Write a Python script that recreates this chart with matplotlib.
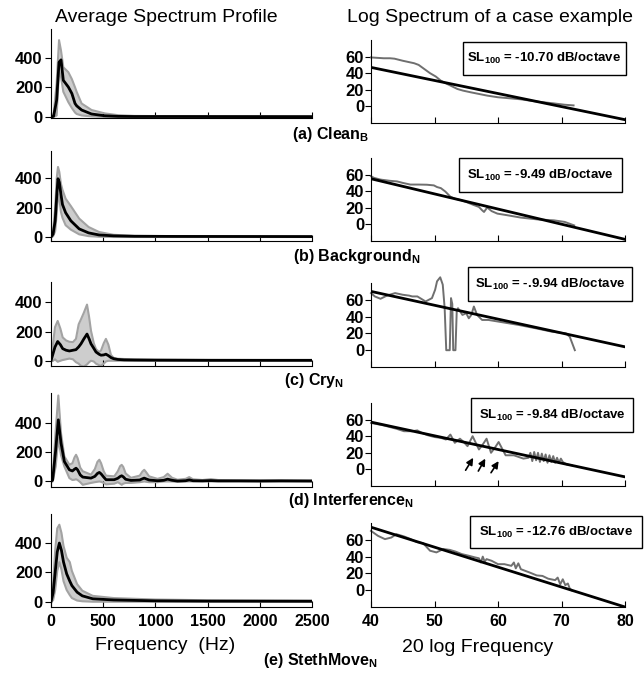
import numpy as np
import matplotlib.pyplot as plt
from matplotlib.patches import Rectangle

plt.rcParams['font.family'] = ['Liberation Sans', 'DejaVu Sans']
plt.rcParams['mathtext.fontset'] = 'custom'
plt.rcParams['mathtext.rm'] = 'Liberation Sans'
plt.rcParams['mathtext.bf'] = 'Liberation Sans:bold'
plt.rcParams['mathtext.it'] = 'Liberation Sans:italic'

# average spectrum profiles (Hz, magnitude)
freq_a = [0, 25, 54, 77, 96, 118, 166, 200, 230, 246, 293, 388, 515, 643, 800, 1200, 2500]
mean_a = [0, 5, 113, 369, 385, 247, 202, 158, 91, 75, 47, 20, 8, 4, 3, 3, 2]
upper_a = [0, 20, 227, 518, 447, 335, 302, 255, 200, 169, 91, 47, 24, 12, 7, 5, 5]
lower_a = [0, 0, 10, 313, 269, 170, 100, 60, 30, 20, 10, 4, 0, 0, 0, 0, 0]

freq_b = [0, 20, 40, 55, 67, 80, 95, 110, 140, 190, 270, 360, 460, 600, 800, 1200, 2500]
mean_b = [0, 20, 110, 280, 395, 370, 290, 220, 165, 110, 55, 28, 14, 8, 5, 4, 3]
upper_b = [0, 40, 200, 400, 475, 440, 360, 320, 260, 210, 125, 68, 34, 15, 8, 6, 5]
lower_b = [0, 5, 40, 160, 290, 260, 170, 130, 80, 50, 18, 6, 2, 0, 0, 0, 0]

freq_c = [0, 20, 38, 64, 90, 112, 145, 176, 210, 239, 265, 287, 315, 345, 365, 383,
          410, 431, 460, 479, 505, 526, 550, 574, 600, 638, 700, 800, 1000, 1500, 2000, 2500]
mean_c = [0, 50, 94, 132, 110, 83, 72, 67, 72, 76, 95, 116, 150, 183, 150, 116,
          85, 60, 45, 38, 40, 45, 35, 22, 14, 9, 6, 5, 4, 3, 3, 3]
upper_c = [0, 120, 230, 273, 220, 160, 139, 130, 128, 150, 250, 284, 330, 385, 300, 206,
           120, 80, 60, 70, 120, 150, 110, 40, 20, 14, 12, 10, 8, 6, 5, 5]
lower_c = [0, 0, 10, -7, 0, 5, 10, 15, 10, -10, -20, -35, -40, -25, -10, 0,
           -5, -20, -30, -35, -20, -5, 0, 0, 0, 0, 0, 0, 0, 0, 0, 0]

freq_d = [0, 16, 45, 70, 96, 128, 176, 205, 225, 240, 255, 280, 304, 383, 420, 445, 463, 480,
          505, 527, 606, 640, 662, 677, 692, 715, 766, 850, 875, 893, 910, 940, 1020, 1080,
          1117, 1160, 1212, 1290, 1324, 1360, 1450, 1531, 1600, 1800, 2000, 2200, 2500]
mean_d = [0, 10, 217, 423, 263, 137, 80, 72, 84, 91, 80, 45, 30, 23, 35, 55, 62, 52,
          30, 12, 12, 22, 34, 39, 32, 15, 7, 10, 18, 23, 18, 10, 5, 8,
          16, 8, 3, 5, 11, 5, 4, 6, 4, 4, 3, 4, 3]
upper_d = [0, 30, 350, 590, 331, 172, 115, 125, 165, 183, 160, 95, 70, 47, 85, 135, 149, 125,
           70, 40, 35, 70, 105, 114, 100, 55, 25, 40, 68, 80, 65, 35, 18, 30,
           53, 25, 12, 18, 30, 15, 10, 16, 10, 8, 8, 8, 7]
lower_d = [0, 0, 103, 297, 180, 103, 23, 10, 12, 15, 10, -5, -23, -10, -5, -2, 0, -3,
           -10, -20, -15, -5, -15, -23, -15, -10, -10, -5, -2, 0, -2, -5, -5, 0,
           0, 0, -3, 0, 0, 0, 0, 0, 0, 0, 0, 0, 0]

freq_e = [0, 20, 40, 60, 80, 100, 120, 150, 180, 200, 250, 300, 400, 600, 1000, 1500, 2500]
mean_e = [0, 60, 200, 340, 400, 350, 270, 190, 140, 110, 65, 40, 20, 12, 6, 4, 3]
upper_e = [0, 120, 350, 500, 525, 470, 380, 300, 270, 210, 120, 75, 40, 25, 15, 10, 8]
lower_e = [0, 10, 80, 210, 270, 220, 140, 80, 45, 25, 8, 3, 0, 0, 0, 0, 0]

# log spectrum of a case example (20 log f, dB)
logf_a = [40, 41, 42, 43, 43.7, 45, 46.8, 47.5, 48.4, 49.3, 50.2, 51, 52, 52.8, 53.6, 54.5,
          55.7, 57, 58.3, 60, 61.5, 63.5, 65, 66.5, 68.7, 70.5, 71.9]
spec_a = [59, 58.5, 58, 58, 57.5, 55, 52, 50, 45, 40, 36, 31, 27, 24, 21, 19,
          17, 15, 13, 11, 10, 8.6, 7, 5.5, 3.7, 2, 1.2]

logf_b = [40, 40.5, 41.5, 43, 44.1, 45, 46.2, 47.5, 48.8, 49.9, 50.4, 51, 51.7, 52.5, 53.2,
          54.1, 55, 56.2, 57, 57.5, 57.8, 58.3, 59, 59.9, 61.5, 63.6, 66.2, 68.8, 70.5, 72]
spec_b = [58, 56, 54, 52.5, 51.8, 50, 48, 48, 47.8, 47, 45, 43.7, 39.6, 33.4, 31,
          29.4, 27, 23.3, 21, 17, 15, 20.4, 16, 13, 11, 8.2, 6, 4.9, 3, -1.2]

logf_c = [40, 40.6, 41.5, 42.5, 43.8, 45, 46, 46.5, 47.3, 48.6, 49.6, 50.1, 50.4, 50.9, 51.3,
          51.6, 51.75, 51.85, 52.4, 52.6, 52.8, 52.95, 53.3, 53.5, 53.7, 54.4, 55.0, 55.4,
          55.8, 56.2, 56.7, 57.5, 58.5, 60.1, 63.3, 66, 68.5, 70.7, 71.3, 71.7, 72.1]
spec_c = [68, 64, 61.2, 65, 68, 66, 65, 64, 64, 58, 62, 72, 82, 86.8, 78,
          50, 20, 0, 0, 62, 55, 0, 0, 46, 50, 42, 44, 38,
          42, 52, 42, 36, 36, 34, 30, 26, 22, 20, 16, 8, 0]

logf_d = [40, 42, 44, 45.2, 46.5, 47.3, 48, 49, 50, 51, 51.8, 52.5, 53.2, 54.0, 54.6, 55.2,
          56.0, 57.0, 57.6, 58.2, 58.9, 59.5, 60.1, 61.2, 62.5, 64.0, 64.8, 65.1, 65.4, 65.7,
          66.0, 66.3, 66.6, 66.9, 67.2, 67.5, 67.8, 68.1, 68.4, 68.7, 69.0, 69.3, 69.6, 69.9,
          70.2, 70.8, 71.6]
spec_d = [56, 53, 49, 46, 46, 47, 44, 41, 39, 38, 36, 42, 32, 37, 33, 28,
          40, 24, 30, 37, 20, 26, 33, 17, 17, 13, 14, 20, 10, 21,
          11, 20, 9, 19, 10, 18, 8, 17, 9, 16, 8, 14, 8, 13,
          9, 6, 5]

logf_e = [40, 41.1, 42.2, 43.2, 44.0, 45.2, 46.2, 47.2, 48.2, 49.3, 50.3, 51.4, 52.4, 53.3,
          54.3, 55.4, 56.4, 57.0, 57.3, 57.6, 57.9, 58.2, 59, 60, 61, 62.1, 62.5, 62.8, 63.2,
          63.6, 64.3, 65, 66.1, 67, 67.9, 69, 69.4, 69.8, 70.2, 70.6, 71, 71.3, 71.6]
spec_e = [70.6, 64.7, 60.8, 62.7, 66.7, 64, 61, 57.3, 56, 47, 45, 49, 48, 46,
          43, 41, 39, 38, 33, 40, 34, 37, 35, 31, 31, 29, 33, 26, 32,
          25, 23, 21, 17.6, 17, 13.7, 12, 15, 7, 13, 6, 8, 2, 0]

fit_x = [40, 80]
fit_a = [47, -16]
fit_b = [55, -18]
fit_c = [70, 4]
fit_d = [57, -9]
fit_e = [75, -20]

slopes = ['-10.70', '-9.49', '-.9.94', '-9.84', '-12.76']
captions = [r'(a) Clean$_\mathbf{B}$', r'(b) Background$_\mathbf{N}$', r'(c) Cry$_\mathbf{N}$',
            r'(d) Interference$_\mathbf{N}$', r'(e) StethMove$_\mathbf{N}$']

arrow_tail_x = [54.9, 56.9, 58.9]
arrow_tail_y = [-1, -2, -4]
arrow_head_x = [56.1, 58.0, 60.1]
arrow_head_y = [14, 13, 10]

profiles = [(freq_a, mean_a, upper_a, lower_a), (freq_b, mean_b, upper_b, lower_b),
            (freq_c, mean_c, upper_c, lower_c), (freq_d, mean_d, upper_d, lower_d),
            (freq_e, mean_e, upper_e, lower_e)]
cases = [(logf_a, spec_a, fit_a), (logf_b, spec_b, fit_b), (logf_c, spec_c, fit_c),
         (logf_d, spec_d, fit_d), (logf_e, spec_e, fit_e)]

# layout in pixels
W, H = 644, 673
left_rows = [(29, 118), (151, 241), (282, 366), (393, 487), (514, 607)]
left_ylims = [(-7, 593), (-27, 583), (-36, 540), (-38, 607), (-36, 598)]
right_rows = [(40, 123), (158, 241), (283, 367), (403, 486), (523, 607)]
boxes = [(463, 42, 626, 75), (459, 158, 622, 192), (468, 267, 632, 301),
         (471, 398, 633, 432), (470, 516, 642, 548)]
caption_pos = [(292, 135), (293, 256), (284, 380), (288, 501), (263, 660)]


def rect(x0, y0, x1, y1):
    return [x0 / W, 1 - y1 / H, (x1 - x0) / W, (y1 - y0) / H]


fig = plt.figure(figsize=(W / 100, H / 100), dpi=100)

for i in range(5):
    f, m, up, lo = profiles[i]
    ax = fig.add_axes(rect(51, left_rows[i][0], 312, left_rows[i][1]))
    ax.fill_between(f, lo, up, color='#cdcdcd', lw=0)
    ax.plot(f, up, color='#a3a3a3', lw=1.5)
    ax.plot(f, lo, color='#a3a3a3', lw=1.5)
    ax.plot(f, m, color='black', lw=2)
    ax.set_xlim(0, 2500)
    ax.set_ylim(*left_ylims[i])
    ax.set_yticks([0, 200, 400])
    ax.set_xticks(np.arange(0, 2501, 500))
    ax.tick_params(axis='y', direction='out', length=4, pad=2, labelsize=12)
    ax.tick_params(axis='x', direction='in', length=4, pad=5, labelsize=11.5)
    for lab in ax.get_yticklabels() + ax.get_xticklabels():
        lab.set_fontweight('bold')
    if i < 4:
        ax.set_xticklabels([])
    ax.spines['top'].set_visible(False)
    ax.spines['right'].set_visible(False)

    lf, sp, fit = cases[i]
    ax2 = fig.add_axes(rect(371, right_rows[i][0], 625, right_rows[i][1]))
    ax2.plot(lf, sp, color='#6f6f6f', lw=1.4, clip_on=False)
    ax2.plot(fit_x, fit, color='black', lw=2)
    ax2.set_xlim(40, 80)
    ax2.set_ylim(-20, 80)
    ax2.set_yticks([0, 20, 40, 60])
    ax2.set_xticks(np.arange(40, 81, 10))
    ax2.tick_params(axis='y', direction='out', length=4, pad=1, labelsize=12)
    ax2.tick_params(axis='x', direction='in', length=4, pad=5, labelsize=11.5)
    for lab in ax2.get_yticklabels() + ax2.get_xticklabels():
        lab.set_fontweight('bold')
    if i < 4:
        ax2.set_xticklabels([])
    ax2.spines['top'].set_visible(False)
    ax2.spines['right'].set_visible(False)

    if i == 3:
        for tx, ty, hx, hy in zip(arrow_tail_x, arrow_tail_y, arrow_head_x, arrow_head_y):
            ax2.annotate('', xy=(hx, hy), xytext=(tx, ty),
                         arrowprops=dict(arrowstyle='-|>', color='black', lw=1.2,
                                         mutation_scale=10, shrinkA=0, shrinkB=0))

    x0, y0, x1, y1 = boxes[i]
    fig.add_artist(Rectangle((x0 / W, 1 - y1 / H), (x1 - x0) / W, (y1 - y0) / H,
                             transform=fig.transFigure, fc='white', ec='black', lw=1))
    fig.text((x0 + x1) / 2 / W, 1 - (y0 + y1) / 2 / H,
             r'SL$_\mathbf{100}$ = ' + slopes[i] + ' dB/octave',
             ha='center', va='center', fontsize=9.5, fontweight='bold')

    cx, cy = caption_pos[i]
    fig.text(cx / W, 1 - cy / H, captions[i], ha='left', va='center',
             fontsize=11.5, fontweight='bold')

fig.text(166 / W, 1 - 17 / H, 'Average Spectrum Profile', ha='center', va='center', fontsize=14)
fig.text(490 / W, 1 - 17 / H, 'Log Spectrum of a case example', ha='center', va='center', fontsize=14)
fig.text(165 / W, 1 - 645 / H, 'Frequency  (Hz)', ha='center', va='center', fontsize=14)
fig.text(478 / W, 1 - 647 / H, '20 log Frequency', ha='center', va='center', fontsize=14)

plt.savefig('out.png', dpi=100)
plt.close()
